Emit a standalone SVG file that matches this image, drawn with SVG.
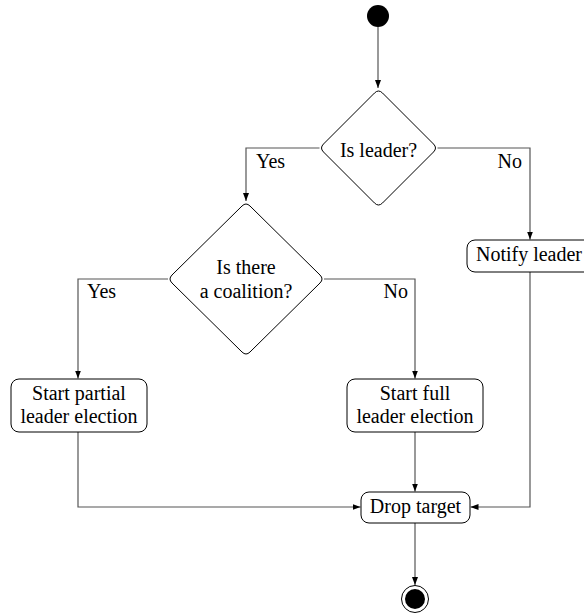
<svg xmlns="http://www.w3.org/2000/svg" width="584" height="615" viewBox="0 0 584 615">
<style>
.node{fill:#fff;stroke:#000;stroke-width:1}
text{font-family:"Liberation Serif","Times New Roman","DejaVu Serif",serif;font-size:20px;fill:#000}
.t{text-anchor:middle}
.c{fill:none;stroke:#555;stroke-width:1.2}
</style>
<defs>
<marker id="arr" markerUnits="userSpaceOnUse" markerWidth="8" markerHeight="6" refX="8" refY="3" orient="auto">
<path d="M0,0 L8,3 L0,6 z" fill="#000"/>
</marker>
</defs>
<rect width="584" height="615" fill="#fff"/>
<g id="connectors">
<path class="c" d="M378,27 L378,88" marker-end="url(#arr)"/>
<path class="c" d="M319.5,148 L246,148 L246,201" marker-end="url(#arr)"/>
<path class="c" d="M437.5,148 L530,148 L530,239.5" marker-end="url(#arr)"/>
<path class="c" d="M168,279 L78,279 L78,378.5" marker-end="url(#arr)"/>
<path class="c" d="M324,279 L415,279 L415,378.5" marker-end="url(#arr)"/>
<path class="c" d="M78,432 L78,507 L360.5,507" marker-end="url(#arr)"/>
<path class="c" d="M415,432 L415,491.5" marker-end="url(#arr)"/>
<path class="c" d="M530,272 L530,507 L470.5,507" marker-end="url(#arr)"/>
<path class="c" d="M415,523 L415,585" marker-end="url(#arr)"/>
<text x="256" y="168">Yes</text>
<text x="522" y="168" text-anchor="end">No</text>
<text x="87" y="298">Yes</text>
<text x="408" y="298" text-anchor="end">No</text>
</g>
<g id="start">
<circle cx="378" cy="16" r="11" fill="#000"/>
</g>
<g id="is-leader">
<path class="node" d="M374.5,93 Q378.5,89 382.5,93 L433.5,144 Q437.5,148 433.5,152 L382.5,203 Q378.5,207 374.5,203 L323.5,152 Q319.5,148 323.5,144 Z"/>
<text class="t" x="378.5" y="157">Is leader?</text>
</g>
<g id="is-coalition">
<path class="node" d="M242,206 Q246,202 250,206 L320,275 Q324,279 320,283 L250,352 Q246,356 242,352 L172,283 Q168,279 172,275 Z"/>
<text class="t" x="246" y="274">Is there</text>
<text class="t" x="246" y="298">a coalition?</text>
</g>
<g id="notify-leader">
<rect class="node" x="467" y="240" width="126" height="32" rx="8"/>
<text class="t" x="529" y="261">Notify leader</text>
</g>
<g id="start-partial">
<rect class="node" x="11" y="379" width="136" height="53" rx="8"/>
<text class="t" x="79" y="400">Start partial</text>
<text class="t" x="79" y="423">leader election</text>
</g>
<g id="start-full">
<rect class="node" x="347" y="379" width="136" height="53" rx="8"/>
<text class="t" x="415" y="400">Start full</text>
<text class="t" x="415" y="423">leader election</text>
</g>
<g id="drop-target">
<rect class="node" x="361" y="492" width="109" height="31" rx="8"/>
<text class="t" x="415.5" y="513">Drop target</text>
</g>
<g id="end">
<circle cx="415" cy="599" r="13.5" fill="#fff" stroke="#000" stroke-width="1"/>
<circle cx="415" cy="599" r="10" fill="#000"/>
</g>
</svg>
